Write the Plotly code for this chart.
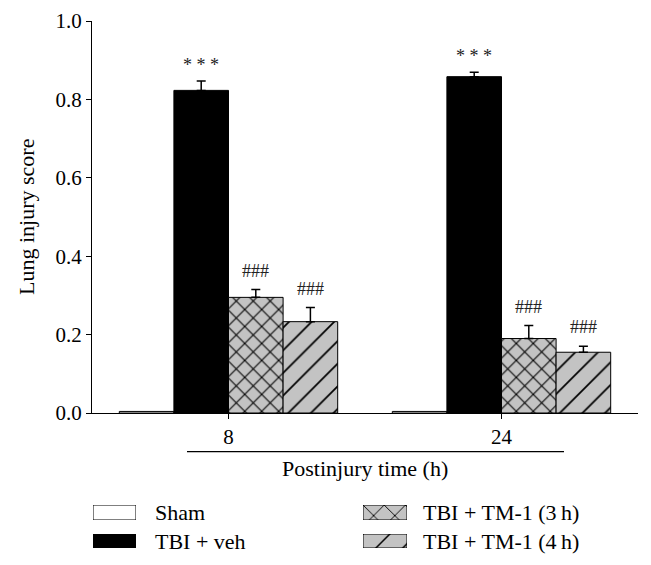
import plotly.graph_objects as go

# ---------------- data ----------------
times = ["8", "24"]
groups = ["Sham", "TBI + veh", "TBI + TM-1 (3\u2009h)", "TBI + TM-1 (4\u2009h)"]
sham = [0.004, 0.004]
veh = [0.823, 0.858]
tm3 = [0.295, 0.190]
tm4 = [0.233, 0.155]
sham_err = [0.0, 0.0]
veh_err = [0.024, 0.011]
tm3_err = [0.020, 0.033]
tm4_err = [0.036, 0.015]
marks = ["", "* * *", "###", "###"]
y_ticks = [0.0, 0.2, 0.4, 0.6, 0.8, 1.0]

values = [sham, veh, tm3, tm4]
errors = [sham_err, veh_err, tm3_err, tm4_err]

# ---------------- style ----------------
W, H = 651, 565
OFF = 8  # page body margin offset
FONT = "'Liberation Serif', 'Times New Roman', serif"
GRAY = "#c3c3c3"
styles = [
    dict(color="white", pattern=None),
    dict(color="black", pattern=None),
    dict(color=GRAY, pattern=dict(shape="x", fgcolor="black", bgcolor=GRAY, size=12, solidity=0.17, fillmode="replace")),
    dict(color=GRAY, pattern=dict(shape="/", fgcolor="black", bgcolor=GRAY, size=16, solidity=0.11, fillmode="replace")),
]
BARGAP = 0.2
n = len(groups)
bw = (1 - BARGAP) / n


def fx(px):
    return (px - OFF) / W


def fy(py):
    return 1 - (py - OFF) / H


fig = go.Figure()
xpos = list(range(len(times)))
for j, g in enumerate(groups):
    m = dict(color=styles[j]["color"], line=dict(color="black", width=1))
    if styles[j]["pattern"]:
        m["pattern"] = styles[j]["pattern"]
    fig.add_trace(go.Bar(
        x=xpos, y=values[j], name=g, marker=m, showlegend=False,
        error_y=dict(type="data", array=errors[j], arrayminus=[0] * len(times),
                     symmetric=False, color="black", thickness=1.5, width=4.5,
                     visible=any(e > 0 for e in errors[j])),
        xaxis="x", yaxis="y",
    ))

# significance marks
annotations = []
for j, mk in enumerate(marks):
    if not mk:
        continue
    for i in xpos:
        annotations.append(dict(
            x=i + (j - (n - 1) / 2) * bw, y=values[j][i] + errors[j][i],
            xref="x", yref="y", text=mk, showarrow=False, yanchor="bottom", xanchor="center",
            yshift=4 if "*" in mk else 7,
            font=dict(family=FONT, size=18, color="#222"),
        ))

# axis titles as annotations
annotations.append(dict(x=fx(27), y=fy(217), xref="paper", yref="paper",
                        xanchor="center", yanchor="middle",
                        text="Lung injury score", textangle=-90, showarrow=False,
                        font=dict(family=FONT, size=22, color="black")))
annotations.append(dict(x=fx(365), y=fy(468), xref="paper", yref="paper",
                        xanchor="center", yanchor="middle",
                        text="Postinjury time (h)", showarrow=False,
                        font=dict(family=FONT, size=22, color="black")))

# legend: swatches drawn as bars on small axes
leg_boxes = [(93, 136, 505, 520), (93, 136, 534, 548), (363, 407, 505, 520), (363, 407, 534, 548)]
leg_text_x = [153, 153, 421, 421]
layout_axes = {}
for j, g in enumerate(groups):
    k = j + 2
    x0, x1, y0, y1 = leg_boxes[j]
    m = dict(color=styles[j]["color"], line=dict(color="black", width=1))
    if styles[j]["pattern"]:
        p = dict(styles[j]["pattern"])
        p["size"] = 15 if p["shape"] == "x" else 19
        p["solidity"] = 0.12 if p["shape"] == "x" else 0.08
        m["pattern"] = p
    fig.add_trace(go.Bar(x=[1], y=[0], orientation="h", width=1, marker=m,
                         showlegend=False, hoverinfo="skip",
                         xaxis=f"x{k}", yaxis=f"y{k}"))
    layout_axes[f"xaxis{k}"] = dict(domain=[fx(x0), fx(x1)], range=[0, 1], visible=False,
                                    fixedrange=True, anchor=f"y{k}")
    layout_axes[f"yaxis{k}"] = dict(domain=[fy(y1), fy(y0)], range=[-0.5, 0.5], visible=False,
                                    fixedrange=True, anchor=f"x{k}")
    annotations.append(dict(x=fx(leg_text_x[j]), y=fy((y0 + y1) / 2), xref="paper", yref="paper",
                            xanchor="left", yanchor="middle", text=g, showarrow=False,
                            font=dict(family=FONT, size=22, color="black")))

fig.update_layout(
    width=W, height=H,
    margin=dict(l=0, r=0, t=0, b=0, pad=0, autoexpand=False),
    paper_bgcolor="white", plot_bgcolor="white",
    barmode="group", bargap=BARGAP, bargroupgap=0,
    font=dict(family=FONT, size=21, color="black"),
    xaxis=dict(domain=[fx(92), fx(638)], range=[-0.5, len(times) - 0.5],
               tickvals=xpos, ticktext=times, ticks="outside", ticklen=5, tickwidth=1.2,
               tickcolor="black", showline=True, linecolor="black", linewidth=1.3,
               showgrid=False, zeroline=False, anchor="y", automargin=False,
               tickfont=dict(family=FONT, size=21, color="black")),
    yaxis=dict(domain=[fy(413), fy(21)], range=[0, 1], tickvals=y_ticks,
               tickformat=".1f", ticks="outside", ticklen=5, tickwidth=1.2,
               tickcolor="black", showline=True, linecolor="black", linewidth=1.3,
               showgrid=False, zeroline=False, anchor="x", automargin=False,
               tickfont=dict(family=FONT, size=21, color="black")),
    shapes=[dict(type="line", xref="paper", yref="paper",
                 x0=fx(187), x1=fx(564), y0=fy(451.7), y1=fy(451.7),
                 line=dict(color="black", width=1.2))],
    annotations=annotations,
    **layout_axes,
)

fig.write_html("out.html")
